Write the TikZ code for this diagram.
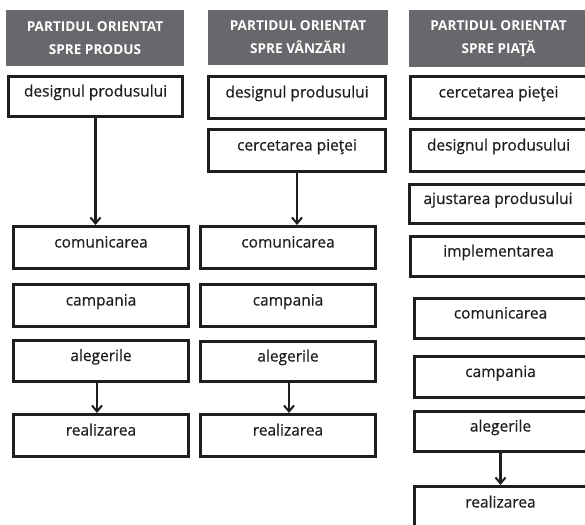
\documentclass[tikz,border=0pt]{standalone}
\usepackage{fontspec}
\setmainfont{Open Sans}
\newfontfamily\medfont[FakeBold=0.5]{Open Sans}
\usetikzlibrary{arrows.meta}
\definecolor{hdr}{HTML}{67686B}
\definecolor{ink}{HTML}{1E1E1E}
\tikzset{
  box/.style={draw=ink, line width=2.6pt, fill=white, inner sep=0pt,
    font=\medfont\fontsize{15.5}{18}\selectfont, text=ink, text height=12pt, text depth=12pt},
  hbox/.style={fill=hdr, inner sep=0pt, align=center, text=white,
    font=\fontsize{13.6}{23}\selectfont\bfseries},
  arr/.style={draw=ink, line width=2.2pt, -{Straight Barb[length=6pt,width=10pt,line width=2pt]}}
}
\newcommand\bx[6]{\node[box, minimum width={(#4-#2-2.6)*1pt}, minimum height={(#5-#3-2.6)*1pt}]
  (#1) at ({(#2+#4)/2},{(#3+#5)/2}) {#6};}
\newcommand\hx[6]{\node[hbox, minimum width={(#4-#2)*1pt}, minimum height={(#5-#3)*1pt}]
  (#1) at ({(#2+#4)/2},{(#3+#5)/2}) {#6};}
\begin{document}
\begin{tikzpicture}[x=1pt,y=-1pt]
\useasboundingbox[fill=white] (0,0) rectangle (585,524);
% column 1
\hx{h1}{6}{10}{184}{66}{PARTIDUL ORIENTAT\\SPRE PRODUS}
\bx{a1}{7}{75}{184}{118}{designul produsului}
\bx{b1}{12}{225}{190}{270}{comunicarea}
\bx{c1}{12}{283}{190}{328}{campania}
\bx{d1}{12}{339}{190}{383}{alegerile}
\bx{e1}{12}{413}{190}{458}{realizarea}
% column 2
\hx{h2}{208}{10}{388}{65}{PARTIDUL ORIENTAT\\SPRE VÂNZĂRI}
\bx{a2}{207}{75}{387}{120}{designul produsului}
\bx{f2}{207}{128}{387}{173}{cercetarea pieţei}
\bx{b2}{199}{225}{377}{270}{comunicarea}
\bx{c2}{199}{283}{377}{328}{campania}
\bx{d2}{199}{340}{377}{383}{alegerile}
\bx{e2}{199}{413}{377}{458}{realizarea}
% column 3
\hx{h3}{409}{10}{588}{67}{PARTIDUL ORIENTAT\\SPRE PIAŢĂ}
\bx{g3}{409}{75}{588}{120}{cercetarea pieţei}
\bx{a3}{409}{128}{588}{173}{designul produsului}
\bx{j3}{408}{183}{588}{225}{ajustarea produsului}
\bx{i3}{409}{235}{588}{278}{implementarea}
\bx{b3}{413}{297}{588}{340}{comunicarea}
\bx{c3}{413}{355}{588}{399}{campania}
\bx{d3}{413}{410}{588}{453}{alegerile}
\bx{e3}{413}{485}{588}{530}{realizarea}
% arrows
\draw[arr] (a1.south) -- (a1.south |- b1.north);
\draw[arr] ([xshift=-4pt]d1.south) -- ([xshift=-4pt]d1.south |- e1.north);
\draw[arr] (f2.south) -- (f2.south |- b2.north);
\draw[arr] ([xshift=1pt]d2.south) -- ([xshift=1pt]d2.south |- e2.north);
\draw[arr] (d3.south) -- (d3.south |- e3.north);
\end{tikzpicture}
\end{document}
